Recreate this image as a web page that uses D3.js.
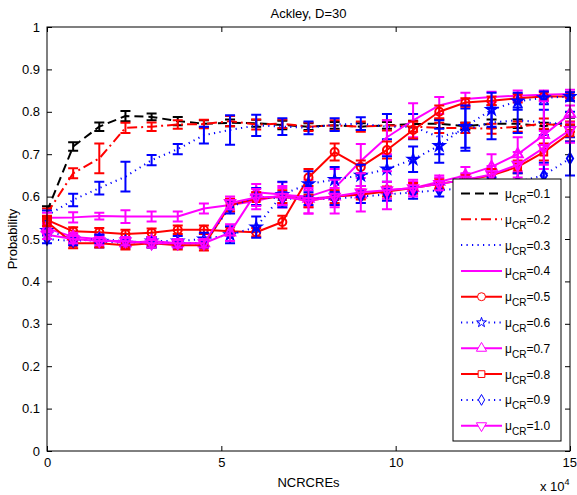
<!DOCTYPE html>
<html>
<head>
<meta charset="utf-8">
<script src="https://cdn.jsdelivr.net/npm/d3@7"></script>
<style>
  html, body { margin: 0; padding: 0; background: #fff; }
  svg text { font-family: "Liberation Sans", Arial, Helvetica, sans-serif; fill: #000; }
</style>
</head>
<body>
<svg id="chart" width="577" height="495"></svg>
<script>
// Evaluation budget (x 10^4 NCRCREs)
const evals = [0, 0.75, 1.5, 2.25, 3, 3.75, 4.5, 5.25, 6, 6.75, 7.5, 8.25, 9, 9.75, 10.5, 11.25, 12, 12.75, 13.5, 14.25, 15];

// Mean probability for each mu_CR setting
const prob01 = [0.565, 0.718, 0.765, 0.79, 0.788, 0.778, 0.772, 0.774, 0.773, 0.769, 0.765, 0.768, 0.765, 0.768, 0.771, 0.772, 0.766, 0.772, 0.772, 0.766, 0.776];
const prob02 = [0.56, 0.655, 0.69, 0.762, 0.765, 0.77, 0.771, 0.778, 0.77, 0.772, 0.765, 0.768, 0.765, 0.768, 0.765, 0.762, 0.762, 0.76, 0.765, 0.772, 0.765];
const prob03 = [0.555, 0.592, 0.62, 0.647, 0.686, 0.712, 0.745, 0.757, 0.768, 0.765, 0.762, 0.77, 0.772, 0.765, 0.765, 0.74, 0.758, 0.775, 0.78, 0.775, 0.77];
const prob04 = [0.55, 0.551, 0.554, 0.553, 0.553, 0.553, 0.572, 0.58, 0.59, 0.604, 0.6, 0.62, 0.684, 0.74, 0.78, 0.815, 0.83, 0.835, 0.838, 0.84, 0.842];
const prob05 = [0.545, 0.518, 0.516, 0.512, 0.515, 0.522, 0.522, 0.518, 0.516, 0.54, 0.645, 0.705, 0.67, 0.71, 0.757, 0.80, 0.822, 0.826, 0.832, 0.836, 0.836];
const prob06 = [0.52, 0.50, 0.495, 0.49, 0.495, 0.495, 0.50, 0.51, 0.528, 0.605, 0.63, 0.64, 0.65, 0.665, 0.688, 0.72, 0.765, 0.805, 0.825, 0.833, 0.836];
const prob07 = [0.525, 0.505, 0.50, 0.49, 0.495, 0.49, 0.49, 0.515, 0.61, 0.605, 0.595, 0.60, 0.605, 0.615, 0.62, 0.635, 0.65, 0.67, 0.70, 0.745, 0.795];
const prob08 = [0.54, 0.49, 0.49, 0.485, 0.49, 0.485, 0.485, 0.58, 0.595, 0.60, 0.59, 0.60, 0.605, 0.612, 0.62, 0.63, 0.64, 0.65, 0.67, 0.705, 0.75];
const prob09 = [0.50, 0.495, 0.50, 0.495, 0.49, 0.49, 0.49, 0.575, 0.60, 0.595, 0.595, 0.595, 0.60, 0.605, 0.61, 0.615, 0.62, 0.625, 0.635, 0.65, 0.69];
const prob10 = [0.51, 0.50, 0.495, 0.495, 0.49, 0.49, 0.49, 0.585, 0.598, 0.60, 0.59, 0.60, 0.61, 0.615, 0.62, 0.63, 0.64, 0.652, 0.675, 0.715, 0.757];

// Error bar half-lengths
const err01 = [0.012, 0.01, 0.01, 0.012, 0.008, 0.01, 0.008, 0.008, 0.008, 0.01, 0.008, 0.008, 0.008, 0.008, 0.008, 0.01, 0.008, 0.01, 0.01, 0.008, 0.01];
const err02 = [0.012, 0.012, 0.035, 0.012, 0.01, 0.01, 0.01, 0.012, 0.012, 0.01, 0.01, 0.012, 0.012, 0.012, 0.012, 0.012, 0.012, 0.012, 0.012, 0.012, 0.012];
const err03 = [0.012, 0.015, 0.015, 0.035, 0.012, 0.012, 0.02, 0.035, 0.025, 0.02, 0.015, 0.015, 0.015, 0.03, 0.03, 0.04, 0.05, 0.04, 0.03, 0.03, 0.03];
const err04 = [0.012, 0.012, 0.008, 0.015, 0.012, 0.012, 0.012, 0.015, 0.02, 0.03, 0.04, 0.045, 0.04, 0.04, 0.04, 0.02, 0.015, 0.012, 0.012, 0.01, 0.01];
const err05 = [0.01, 0.01, 0.01, 0.01, 0.01, 0.01, 0.01, 0.01, 0.01, 0.015, 0.02, 0.02, 0.015, 0.02, 0.02, 0.015, 0.01, 0.01, 0.01, 0.01, 0.01];
const err06 = [0.01, 0.01, 0.015, 0.01, 0.01, 0.012, 0.015, 0.02, 0.025, 0.03, 0.03, 0.03, 0.025, 0.03, 0.03, 0.04, 0.05, 0.04, 0.02, 0.015, 0.01];
const err07 = [0.01, 0.01, 0.01, 0.01, 0.01, 0.01, 0.01, 0.02, 0.02, 0.02, 0.02, 0.02, 0.02, 0.02, 0.015, 0.015, 0.02, 0.03, 0.04, 0.08, 0.02];
const err08 = [0.01, 0.012, 0.01, 0.01, 0.01, 0.01, 0.012, 0.015, 0.015, 0.015, 0.015, 0.015, 0.012, 0.012, 0.012, 0.012, 0.012, 0.015, 0.015, 0.02, 0.02];
const err09 = [0.01, 0.01, 0.01, 0.01, 0.01, 0.01, 0.01, 0.015, 0.02, 0.015, 0.015, 0.015, 0.015, 0.015, 0.015, 0.015, 0.015, 0.02, 0.02, 0.03, 0.04];
const err10 = [0.01, 0.01, 0.01, 0.01, 0.01, 0.01, 0.01, 0.015, 0.02, 0.02, 0.03, 0.04, 0.045, 0.045, 0.02, 0.015, 0.015, 0.02, 0.03, 0.04, 0.03];

const muLabels = ["0.1", "0.2", "0.3", "0.4", "0.5", "0.6", "0.7", "0.8", "0.9", "1.0"];
const xTickValues = [0, 5, 10, 15];
const yTickValues = [0, 0.1, 0.2, 0.3, 0.4, 0.5, 0.6, 0.7, 0.8, 0.9, 1];

const titleText = "Ackley, D=30";
const xLabel = "NCRCREs";
const yLabel = "Probability";

// Styling for each series
const BLACK = "#000000", RED = "#ff0000", BLUE = "#0000ff", MAGENTA = "#ff00ff";
const DASH = "9,5", DASHDOT = "10,4,2,4", DOT = "1.2,4.3";
const styles = [
  { color: BLACK,   dash: DASH,    marker: null },
  { color: RED,     dash: DASHDOT, marker: null },
  { color: BLUE,    dash: DOT,     marker: null },
  { color: MAGENTA, dash: null,    marker: null },
  { color: RED,     dash: null,    marker: "circle" },
  { color: BLUE,    dash: DOT,     marker: "star" },
  { color: MAGENTA, dash: null,    marker: "triUp" },
  { color: RED,     dash: null,    marker: "square" },
  { color: BLUE,    dash: DOT,     marker: "diamond" },
  { color: MAGENTA, dash: null,    marker: "triDown" }
];
const means = [prob01, prob02, prob03, prob04, prob05, prob06, prob07, prob08, prob09, prob10];
const errs = [err01, err02, err03, err04, err05, err06, err07, err08, err09, err10];

const series = means.map((m, i) => ({
  label: muLabels[i],
  style: styles[i],
  points: evals.map((xv, j) => ({ x: xv, y: m[j], e: errs[i][j] }))
}));

const svg = d3.select("#chart");
const plotLeft = 47, plotRight = 570, plotTop = 27, plotBottom = 451;

const x = d3.scaleLinear().domain([0, 15]).range([plotLeft, plotRight]);
const y = d3.scaleLinear().domain([0, 1]).range([plotBottom, plotTop]);

// Marker shapes
const markerPath = {
  circle:  d3.symbol().type(d3.symbolCircle).size(50)(),
  star:    d3.symbol().type(d3.symbolStar).size(30)(),
  triUp:   d3.symbol().type(d3.symbolTriangle).size(45)(),
  triDown: d3.symbol().type(d3.symbolTriangle).size(45)(),
  square:  d3.symbol().type(d3.symbolSquare).size(45)(),
  diamond: d3.symbol().type(d3.symbolDiamond).size(34)()
};
function markerTransform(kind, px, py) {
  return kind === "triDown" ? `translate(${px},${py}) rotate(180)` : `translate(${px},${py})`;
}

// Axes frame with inward ticks on every side
const fmt = d => String(+d.toFixed(1));
const axisB = d3.axisBottom(x).tickValues(xTickValues).tickFormat(fmt).tickSizeInner(-5).tickSizeOuter(0).tickPadding(7);
const axisT = d3.axisTop(x).tickValues(xTickValues).tickFormat("").tickSizeInner(-5).tickSizeOuter(0);
const axisL = d3.axisLeft(y).tickValues(yTickValues).tickFormat(fmt).tickSizeInner(-5).tickSizeOuter(0).tickPadding(7);
const axisR = d3.axisRight(y).tickValues(yTickValues).tickFormat("").tickSizeInner(-5).tickSizeOuter(0);

const axesG = svg.append("g");
const gB = axesG.append("g").attr("transform", `translate(0,${plotBottom})`).call(axisB);
axesG.append("g").attr("transform", `translate(0,${plotTop})`).call(axisT);
axesG.append("g").attr("transform", `translate(${plotLeft},0)`).call(axisL);
axesG.append("g").attr("transform", `translate(${plotRight},0)`).call(axisR);
axesG.selectAll(".domain").remove();
axesG.selectAll(".tick line").attr("stroke", "#000").attr("stroke-width", 1);
axesG.selectAll(".tick text").attr("font-size", 13).attr("fill", "#000")
  .style("font-family", '"Liberation Sans", Arial, sans-serif');
// keep the last x label inside the canvas
gB.selectAll(".tick text").filter(d => d === 15).attr("text-anchor", "end").attr("dx", "0.5em");

// Series: error bars, line, markers
const line = d3.line().x(d => x(d.x)).y(d => y(d.y));
const cap = 5;
const plotG = svg.append("g");
series.forEach(s => {
  const g = plotG.append("g");
  const c = s.style.color;
  const bars = g.append("g").attr("stroke", c).attr("stroke-width", 2).attr("fill", "none");
  s.points.forEach(p => {
    const px = x(p.x), y1 = y(p.y - p.e), y2 = y(p.y + p.e);
    bars.append("path")
      .attr("d", `M${px},${y1}V${y2}M${px - cap},${y1}H${px + cap}M${px - cap},${y2}H${px + cap}`);
  });
  g.append("path")
    .datum(s.points)
    .attr("d", line)
    .attr("fill", "none")
    .attr("stroke", c)
    .attr("stroke-width", 2)
    .attr("stroke-dasharray", s.style.dash)
    .attr("stroke-linejoin", "round");
  if (s.style.marker) {
    g.selectAll("path.mk")
      .data(s.points)
      .enter().append("path")
      .attr("class", "mk")
      .attr("d", markerPath[s.style.marker])
      .attr("transform", d => markerTransform(s.style.marker, x(d.x), y(d.y)))
      .attr("fill", "none")
      .attr("stroke", c)
      .attr("stroke-width", 2);
  }
});

// Axes box
svg.append("rect")
  .attr("x", plotLeft).attr("y", plotTop)
  .attr("width", plotRight - plotLeft).attr("height", plotBottom - plotTop)
  .attr("fill", "none").attr("stroke", "#000").attr("stroke-width", 1);

// Title and axis labels
svg.append("text").attr("x", (plotLeft + plotRight) / 2).attr("y", 18)
  .attr("text-anchor", "middle").attr("font-size", 13).text(titleText);
svg.append("text").attr("x", (plotLeft + plotRight) / 2).attr("y", 487)
  .attr("text-anchor", "middle").attr("font-size", 13).text(xLabel);
svg.append("text")
  .attr("transform", `translate(17,${(plotTop + plotBottom) / 2}) rotate(-90)`)
  .attr("text-anchor", "middle").attr("font-size", 13).text(yLabel);
const expo = svg.append("text").attr("x", 540).attr("y", 491).attr("font-size", 13);
expo.append("tspan").text("x 10");
expo.append("tspan").attr("dy", -6).attr("font-size", 9).text("4");

// Legend
const lg = svg.append("g");
const lgX = 453, lgY = 179, lgW = 108, lgH = 262, rowH = 25.8, row0 = 193.5;
lg.append("rect").attr("x", lgX).attr("y", lgY).attr("width", lgW).attr("height", lgH)
  .attr("fill", "#fff").attr("stroke", "#000").attr("stroke-width", 1);
series.forEach((s, i) => {
  const cy = row0 + i * rowH;
  lg.append("line")
    .attr("x1", 461).attr("x2", 502).attr("y1", cy).attr("y2", cy)
    .attr("stroke", s.style.color).attr("stroke-width", 2)
    .attr("stroke-dasharray", s.style.dash);
  if (s.style.marker) {
    lg.append("path")
      .attr("d", markerPath[s.style.marker])
      .attr("transform", markerTransform(s.style.marker, 481.5, cy))
      .attr("fill", "#fff").attr("stroke", s.style.color).attr("stroke-width", 1);
  }
  const t = lg.append("text").attr("x", 505).attr("y", cy + 4.5).attr("font-size", 12);
  t.append("tspan").text("\u03bc");
  t.append("tspan").attr("dy", 5).attr("font-size", 10).text("CR");
  t.append("tspan").attr("dy", -5).attr("font-size", 12).text("=" + s.label);
});
</script>
</body>
</html>
